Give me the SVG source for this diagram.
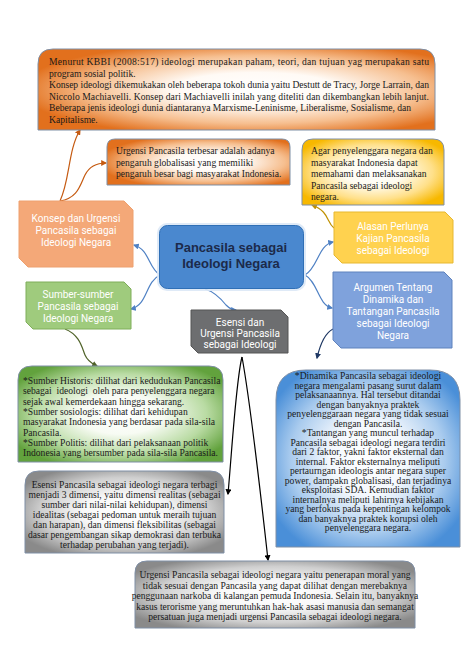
<svg xmlns="http://www.w3.org/2000/svg" width="474" height="670" viewBox="0 0 474 670">
<style>
.serif{font-family:"Liberation Serif","Times New Roman",serif;font-size:9.6px;fill:#1a1a1a}
.lbl{font-family:Roboto,"DejaVu Sans",sans-serif;font-size:10px;fill:#ffffff;text-anchor:middle}
.title{font-family:"Liberation Sans",Arial,sans-serif;font-weight:bold;font-size:13px;fill:#1c2a4a;text-anchor:middle}
.mid{text-anchor:middle}
.box{stroke:#7f8fa6;stroke-width:1}
.c{fill:none;stroke-width:1.2}
</style>
<defs>
<radialGradient id="gOr" cx="55%" cy="50%" r="60%"><stop offset="0" stop-color="#ffffff"/><stop offset="0.35" stop-color="#fffaf5"/><stop offset="0.7" stop-color="#f6bf90"/><stop offset="1" stop-color="#e2701d"/></radialGradient>
<radialGradient id="gYe" cx="50%" cy="50%" r="60%"><stop offset="0" stop-color="#ffffff"/><stop offset="0.35" stop-color="#fffcf0"/><stop offset="0.7" stop-color="#ffe08a"/><stop offset="1" stop-color="#f7b800"/></radialGradient>
<radialGradient id="gGr" cx="50%" cy="50%" r="60%"><stop offset="0" stop-color="#ffffff"/><stop offset="0.35" stop-color="#f7fbf3"/><stop offset="0.7" stop-color="#b9dba3"/><stop offset="1" stop-color="#62a23d"/></radialGradient>
<radialGradient id="gBl" cx="50%" cy="50%" r="60%"><stop offset="0" stop-color="#ffffff"/><stop offset="0.35" stop-color="#f4f8fd"/><stop offset="0.7" stop-color="#a9cbee"/><stop offset="1" stop-color="#4a8fd8"/></radialGradient>
<radialGradient id="gGy" cx="50%" cy="50%" r="60%"><stop offset="0" stop-color="#ffffff"/><stop offset="0.35" stop-color="#f8f8f8"/><stop offset="0.7" stop-color="#cfcfcf"/><stop offset="1" stop-color="#8a8a8a"/></radialGradient>
<marker id="mOr" viewBox="0 0 10 10" refX="8" refY="5" markerWidth="5" markerHeight="5" orient="auto"><path d="M0,0 L10,5 L0,10 Z" fill="#c55a11"/></marker>
<marker id="mBl" viewBox="0 0 10 10" refX="8" refY="5" markerWidth="5" markerHeight="5" orient="auto"><path d="M0,0 L10,5 L0,10 Z" fill="#4f81c4"/></marker>
<marker id="mGo" viewBox="0 0 10 10" refX="8" refY="5" markerWidth="5" markerHeight="5" orient="auto"><path d="M0,0 L10,5 L0,10 Z" fill="#bf9000"/></marker>
<marker id="mGn" viewBox="0 0 10 10" refX="8" refY="5" markerWidth="5" markerHeight="5" orient="auto"><path d="M0,0 L10,5 L0,10 Z" fill="#4f6228"/></marker>
<marker id="mNv" viewBox="0 0 10 10" refX="8" refY="5" markerWidth="5" markerHeight="5" orient="auto"><path d="M0,0 L10,5 L0,10 Z" fill="#1f3864"/></marker>
<marker id="mBk" viewBox="0 0 10 10" refX="8" refY="5" markerWidth="5" markerHeight="5" orient="auto"><path d="M0,0 L10,5 L0,10 Z" fill="#000000"/></marker>
</defs>
<rect width="474" height="670" fill="#ffffff"/>

<g id="connectors">
<path class="c" stroke="#c55a11" marker-end="url(#mOr)" d="M60 201 C70 180 68 150 80 130"/>
<path class="c" stroke="#c55a11" marker-end="url(#mOr)" d="M60 201 C78 198 80 185 85 175 C90 165 98 163 106 163"/>
<path class="c" stroke="#4f81c4" marker-end="url(#mBl)" d="M160 275 C148 268 150 250 134 245"/>
<path class="c" stroke="#4f81c4" marker-end="url(#mBl)" d="M160 275 C145 282 148 305 131 309"/>
<path class="c" stroke="#4f81c4" marker-end="url(#mBl)" d="M305 275 C318 268 318 245 333 242"/>
<path class="c" stroke="#4f81c4" marker-end="url(#mBl)" d="M305 275 C318 282 318 305 332 308"/>
<path class="c" stroke="#4f81c4" marker-end="url(#mBl)" d="M205 289 C215 292 222 300 226 305 C230 309 233 310 236 310"/>
<path class="c" stroke="#bf9000" marker-end="url(#mGo)" d="M334 228 C326 222 330 212 312 205"/>
<path class="c" stroke="#4f6228" marker-end="url(#mGn)" d="M65 329 C80 335 82 348 85 355 C88 362 93 364 97 366"/>
<path class="c" stroke="#1f3864" marker-end="url(#mNv)" d="M333 329 C325 333 320 345 317 358"/>
<path class="c" stroke="#000000" stroke-width="0.9" marker-end="url(#mBk)" d="M242 357 C236 380 232 450 228 494"/>
<path class="c" stroke="#000000" stroke-width="0.9" marker-end="url(#mBk)" d="M242 357 C250 400 258 470 268 560"/>
</g>

<g id="box-kbbi">
<path class="box" fill="url(#gOr)" d="M38 130 V64 Q38 49 53 49 H420 Q435 49 435 64 V130 Z"/>
<text class="serif" x="49" y="65" textLength="380" lengthAdjust="spacing">Menurut KBBI (2008:517) ideologi merupakan paham, teori, dan tujuan yag merupakan satu</text>
<text class="serif" x="49" y="76.5">program sosial politik.</text>
<text class="serif" x="49" y="88" textLength="380" lengthAdjust="spacing">Konsep ideologi dikemukakan oleh beberapa tokoh dunia yaitu Destutt de Tracy, Jorge Larrain, dan</text>
<text class="serif" x="49" y="99.5" textLength="380" lengthAdjust="spacing">Niccolo Machiavelli. Konsep dari Machiavelli inilah yang diteliti dan dikembangkan lebih lanjut.</text>
<text class="serif" x="49" y="111">Beberapa jenis ideologi dunia diantaranya Marxisme-Leninisme, Liberalisme, Sosialisme, dan</text>
<text class="serif" x="49" y="122.5">Kapitalisme.</text>
</g>

<g id="box-urgensi-global">
<path class="box" fill="url(#gOr)" d="M107 185 V147 Q107 139 115 139 H282 Q290 139 290 147 V185 Z"/>
<text class="serif" x="116" y="154">Urgensi Pancasila terbesar adalah adanya</text>
<text class="serif" x="116" y="165.5">pengaruh globalisasi yang memiliki</text>
<text class="serif" x="116" y="177">pengaruh besar bagi masyarakat Indonesia.</text>
</g>

<g id="box-agar">
<path class="box" fill="url(#gYe)" d="M302 205 V150 Q302 139 313 139 H433 Q444 139 444 150 V205 Z"/>
<text class="serif" x="311" y="154">Agar penyelenggara negara dan</text>
<text class="serif" x="311" y="165.5">masyarakat Indonesia dapat</text>
<text class="serif" x="311" y="177">memahami dan melaksanakan</text>
<text class="serif" x="311" y="188.5">Pancasila sebagai ideologi</text>
<text class="serif" x="311" y="200">negara.</text>
</g>

<g id="node-konsep">
<path fill="#f4a878" stroke="#eea06e" d="M19 201 H124 L133 210 V267 H28 L19 258 Z"/>
<text class="lbl" x="76" y="222">Konsep dan Urgensi</text>
<text class="lbl" x="76" y="234">Pancasila sebagai</text>
<text class="lbl" x="76" y="246">Ideologi Negara</text>
</g>

<g id="node-center">
<rect x="157" y="223" width="149" height="68" rx="10" fill="#dbe8f6" opacity="0.9"/>
<rect x="159.5" y="225.5" width="144" height="63" rx="8" fill="#4a88cf" stroke="#2f6fb6" stroke-width="1"/>
<text class="title" x="231" y="252">Pancasila sebagai</text>
<text class="title" x="231" y="268">Ideologi Negara</text>
</g>

<g id="node-alasan">
<path fill="#ffd24f" stroke="#e7b830" d="M334 212 H445 L453 220 V263 H342 L334 255 Z"/>
<text class="lbl" x="393" y="230">Alasan Perlunya</text>
<text class="lbl" x="393" y="242">Kajian Pancasila</text>
<text class="lbl" x="393" y="254">sebagai Ideologi</text>
</g>

<g id="node-sumber">
<path fill="#9fcb7d" stroke="#7fae5b" d="M26 282 H124 L131 289 V329 H33 L26 322 Z"/>
<text class="lbl" x="78" y="298">Sumber-sumber</text>
<text class="lbl" x="78" y="310">Pancasila sebagai</text>
<text class="lbl" x="78" y="322">Ideologi Negara</text>
</g>

<g id="node-argumen">
<path fill="#7fa2dc" stroke="#5f82bd" d="M333 272 H444 L452 280 V348 H341 L333 340 Z"/>
<text class="lbl" x="393" y="291">Argumen Tentang</text>
<text class="lbl" x="393" y="303">Dinamika dan</text>
<text class="lbl" x="393" y="315">Tantangan Pancasila</text>
<text class="lbl" x="393" y="327">sebagai Ideologi</text>
<text class="lbl" x="393" y="339">Negara</text>
</g>

<g id="node-esensi">
<path fill="#6d6e70" stroke="#555" d="M191 310 H281 L288 317 V353 H198 L191 346 Z"/>
<text class="lbl" x="240" y="326">Esensi dan</text>
<text class="lbl" x="240" y="337">Urgensi Pancasila</text>
<text class="lbl" x="240" y="348">sebagai Ideologi</text>
</g>

<g id="box-sumber-text">
<path class="box" fill="url(#gGr)" d="M18 462 V380 Q18 366 32 366 H209 Q223 366 223 380 V462 Z"/>
<text class="serif" x="23" y="384">*Sumber Historis: dilihat dari kedudukan Pancasila</text>
<text class="serif" x="23" y="394.3" xml:space="preserve">sebagai  ideologi  oleh para penyelenggara negara</text>
<text class="serif" x="23" y="404.6">sejak awal kemerdekaan hingga sekarang.</text>
<text class="serif" x="23" y="414.9">*Sumber sosiologis: dilihat dari kehidupan</text>
<text class="serif" x="23" y="425.2">masyarakat Indonesia yang berdasar pada sila-sila</text>
<text class="serif" x="23" y="435.5">Pancasila.</text>
<text class="serif" x="23" y="445.8">*Sumber Politis: dilihat dari pelaksanaan politik</text>
<text class="serif" x="23" y="456.1">Indonesia yang bersumber pada sila-sila Pancasila.</text>
</g>

<g id="box-dinamika">
<path class="box" fill="url(#gBl)" d="M276 547 V400 Q276 370 306 370 H430 Q460 370 460 400 V547 Z"/>
<g class="serif mid">
<text x="368" y="379">*Dinamika Pancasila sebagai ideologi</text>
<text x="368" y="388.5">negara mengalami pasang surut dalam</text>
<text x="368" y="398">pelaksanaannya. Hal tersebut ditandai</text>
<text x="368" y="407.5">dengan banyaknya praktek</text>
<text x="368" y="417">penyelenggaraan negara yang tidak sesuai</text>
<text x="368" y="426.5">dengan Pancasila.</text>
<text x="368" y="436">*Tantangan yang muncul terhadap</text>
<text x="368" y="445.5">Pancasila sebagai ideologi negara terdiri</text>
<text x="368" y="455">dari 2 faktor, yakni faktor eksternal dan</text>
<text x="368" y="464.5">internal. Faktor eksternalnya meliputi</text>
<text x="368" y="474">pertaurngan ideologis antar negara super</text>
<text x="368" y="483.5">power, dampakn globalisasi, dan terjadinya</text>
<text x="368" y="493">eksploitasi SDA. Kemudian faktor</text>
<text x="368" y="502.5">internalnya meliputi lahirnya kebijakan</text>
<text x="368" y="512">yang berfokus pada kepentingan kelompok</text>
<text x="368" y="521.5">dan banyaknya praktek korupsi oleh</text>
<text x="368" y="531">penyelenggara negara.</text>
</g>
</g>

<g id="box-esensi-text">
<path class="box" fill="url(#gGy)" d="M25 553 V485 Q25 471 39 471 H210 Q224 471 224 485 V553 Z"/>
<g class="serif mid">
<text x="124.5" y="488">Esensi Pancasila sebagai ideologi negara terbagi</text>
<text x="124.5" y="498">menjadi 3 dimensi, yaitu dimensi realitas (sebagai</text>
<text x="124.5" y="508">sumber dari nilai-nilai kehidupan), dimensi</text>
<text x="124.5" y="518">idealitas (sebagai pedoman untuk meraih tujuan</text>
<text x="124.5" y="528">dan harapan), dan dimensi fleksibilitas (sebagai</text>
<text x="124.5" y="538">dasar pengembangan sikap demokrasi dan terbuka</text>
<text x="124.5" y="548">terhadap perubahan yang terjadi).</text>
</g>
</g>

<g id="box-urgensi-text">
<path class="box" fill="url(#gGy)" d="M135 628 V573 Q135 561 147 561 H403 Q415 561 415 573 V628 Z"/>
<g class="serif mid">
<text x="275" y="578">Urgensi Pancasila sebagai ideologi negara yaitu penerapan moral yang</text>
<text x="275" y="588.5">tidak sesuai dengan Pancasila yang dapat dilihat dengan merebaknya</text>
<text x="275" y="599">penggunaan narkoba di kalangan pemuda Indonesia. Selain itu, banyaknya</text>
<text x="275" y="609.5">kasus terorisme yang meruntuhkan hak-hak asasi manusia dan semangat</text>
<text x="275" y="620">persatuan juga menjadi urgensi Pancasila sebagai ideologi negara.</text>
</g>
</g>
</svg>
